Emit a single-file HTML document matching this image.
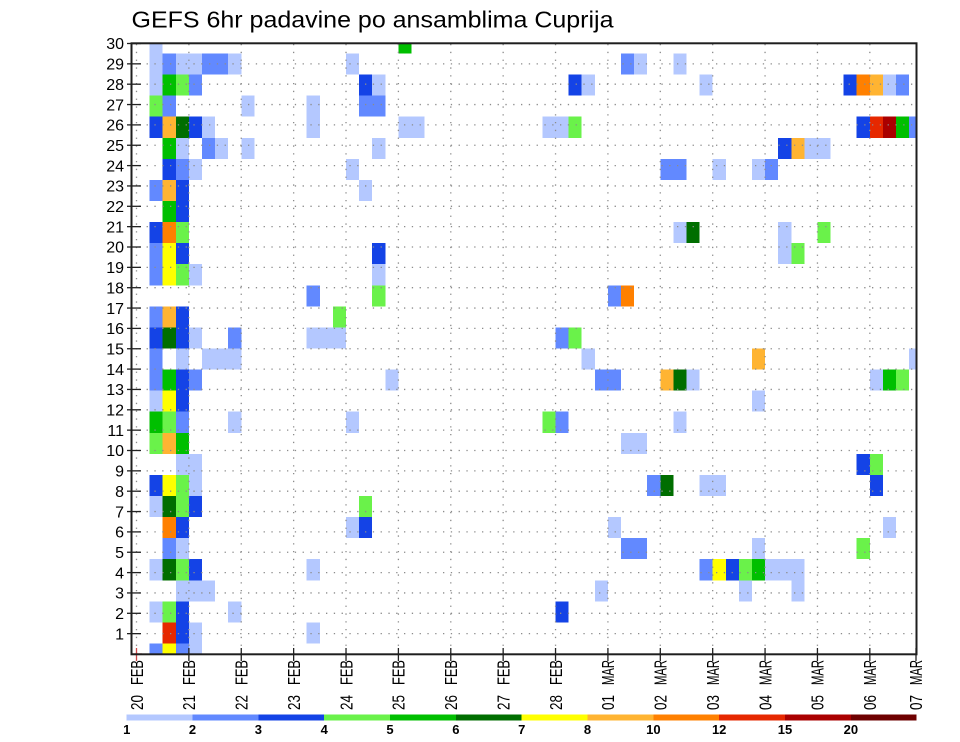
<!DOCTYPE html>
<html><head><meta charset="utf-8"><style>
html,body{margin:0;padding:0;background:#fff;}
svg{display:block;}
text{font-family:"Liberation Sans",Arial,sans-serif;fill:#000;}
</style></head><body>
<svg width="960" height="742" viewBox="0 0 960 742" xmlns="http://www.w3.org/2000/svg">
<rect x="0" y="0" width="960" height="742" fill="#fff"/>
<text x="131.5" y="27.3" font-size="23" textLength="482" lengthAdjust="spacingAndGlyphs">GEFS 6hr padavine po ansamblima Cuprija</text>
<defs><clipPath id="pc"><rect x="131" y="43.5" width="785" height="610.5"/></clipPath></defs>
<g clip-path="url(#pc)">
<g transform="translate(136.5,654) scale(13.095,-21.07)" shape-rendering="crispEdges">
<g fill="#b4c8ff">
<rect x="1" y="28.5" width="1" height="1"/>
<rect x="1" y="27.5" width="1" height="1"/><rect x="3" y="27.5" width="1" height="1"/><rect x="4" y="27.5" width="1" height="1"/><rect x="7" y="27.5" width="1" height="1"/><rect x="16" y="27.5" width="1" height="1"/><rect x="38" y="27.5" width="1" height="1"/><rect x="41" y="27.5" width="1" height="1"/>
<rect x="1" y="26.5" width="1" height="1"/><rect x="18" y="26.5" width="1" height="1"/><rect x="34" y="26.5" width="1" height="1"/><rect x="43" y="26.5" width="1" height="1"/><rect x="57" y="26.5" width="1" height="1"/>
<rect x="8" y="25.5" width="1" height="1"/><rect x="13" y="25.5" width="1" height="1"/>
<rect x="5" y="24.5" width="1" height="1"/><rect x="13" y="24.5" width="1" height="1"/><rect x="20" y="24.5" width="1" height="1"/><rect x="21" y="24.5" width="1" height="1"/><rect x="31" y="24.5" width="1" height="1"/><rect x="32" y="24.5" width="1" height="1"/>
<rect x="3" y="23.5" width="1" height="1"/><rect x="6" y="23.5" width="1" height="1"/><rect x="8" y="23.5" width="1" height="1"/><rect x="18" y="23.5" width="1" height="1"/><rect x="51" y="23.5" width="1" height="1"/><rect x="52" y="23.5" width="1" height="1"/>
<rect x="4" y="22.5" width="1" height="1"/><rect x="16" y="22.5" width="1" height="1"/><rect x="44" y="22.5" width="1" height="1"/><rect x="47" y="22.5" width="1" height="1"/>
<rect x="17" y="21.5" width="1" height="1"/>
<rect x="41" y="19.5" width="1" height="1"/><rect x="49" y="19.5" width="1" height="1"/>
<rect x="49" y="18.5" width="1" height="1"/>
<rect x="4" y="17.5" width="1" height="1"/><rect x="18" y="17.5" width="1" height="1"/>
<rect x="4" y="14.5" width="1" height="1"/><rect x="13" y="14.5" width="1" height="1"/><rect x="14" y="14.5" width="1" height="1"/><rect x="15" y="14.5" width="1" height="1"/>
<rect x="3" y="13.5" width="1" height="1"/><rect x="5" y="13.5" width="1" height="1"/><rect x="6" y="13.5" width="1" height="1"/><rect x="7" y="13.5" width="1" height="1"/><rect x="34" y="13.5" width="1" height="1"/><rect x="59" y="13.5" width="1" height="1"/>
<rect x="19" y="12.5" width="1" height="1"/><rect x="42" y="12.5" width="1" height="1"/><rect x="56" y="12.5" width="1" height="1"/>
<rect x="1" y="11.5" width="1" height="1"/><rect x="47" y="11.5" width="1" height="1"/>
<rect x="7" y="10.5" width="1" height="1"/><rect x="16" y="10.5" width="1" height="1"/><rect x="41" y="10.5" width="1" height="1"/>
<rect x="37" y="9.5" width="1" height="1"/><rect x="38" y="9.5" width="1" height="1"/>
<rect x="3" y="8.5" width="1" height="1"/><rect x="4" y="8.5" width="1" height="1"/>
<rect x="4" y="7.5" width="1" height="1"/><rect x="43" y="7.5" width="1" height="1"/><rect x="44" y="7.5" width="1" height="1"/>
<rect x="1" y="6.5" width="1" height="1"/>
<rect x="16" y="5.5" width="1" height="1"/><rect x="36" y="5.5" width="1" height="1"/><rect x="57" y="5.5" width="1" height="1"/>
<rect x="3" y="4.5" width="1" height="1"/><rect x="47" y="4.5" width="1" height="1"/>
<rect x="1" y="3.5" width="1" height="1"/><rect x="13" y="3.5" width="1" height="1"/><rect x="48" y="3.5" width="1" height="1"/><rect x="49" y="3.5" width="1" height="1"/><rect x="50" y="3.5" width="1" height="1"/>
<rect x="3" y="2.5" width="1" height="1"/><rect x="4" y="2.5" width="1" height="1"/><rect x="5" y="2.5" width="1" height="1"/><rect x="35" y="2.5" width="1" height="1"/><rect x="46" y="2.5" width="1" height="1"/><rect x="50" y="2.5" width="1" height="1"/>
<rect x="1" y="1.5" width="1" height="1"/><rect x="7" y="1.5" width="1" height="1"/>
<rect x="4" y="0.5" width="1" height="1"/><rect x="13" y="0.5" width="1" height="1"/>
<rect x="4" y="-0.5" width="1" height="1"/>
</g>
<g fill="#6289ff">
<rect x="2" y="27.5" width="1" height="1"/><rect x="5" y="27.5" width="1" height="1"/><rect x="6" y="27.5" width="1" height="1"/><rect x="37" y="27.5" width="1" height="1"/>
<rect x="4" y="26.5" width="1" height="1"/><rect x="58" y="26.5" width="1" height="1"/>
<rect x="2" y="25.5" width="1" height="1"/><rect x="17" y="25.5" width="1" height="1"/><rect x="18" y="25.5" width="1" height="1"/>
<rect x="59" y="24.5" width="1" height="1"/>
<rect x="5" y="23.5" width="1" height="1"/>
<rect x="3" y="22.5" width="1" height="1"/><rect x="40" y="22.5" width="1" height="1"/><rect x="41" y="22.5" width="1" height="1"/><rect x="48" y="22.5" width="1" height="1"/>
<rect x="1" y="21.5" width="1" height="1"/>
<rect x="1" y="18.5" width="1" height="1"/>
<rect x="1" y="17.5" width="1" height="1"/>
<rect x="13" y="16.5" width="1" height="1"/><rect x="36" y="16.5" width="1" height="1"/>
<rect x="1" y="15.5" width="1" height="1"/>
<rect x="7" y="14.5" width="1" height="1"/><rect x="32" y="14.5" width="1" height="1"/>
<rect x="1" y="13.5" width="1" height="1"/>
<rect x="1" y="12.5" width="1" height="1"/><rect x="4" y="12.5" width="1" height="1"/><rect x="35" y="12.5" width="1" height="1"/><rect x="36" y="12.5" width="1" height="1"/>
<rect x="3" y="10.5" width="1" height="1"/><rect x="32" y="10.5" width="1" height="1"/>
<rect x="39" y="7.5" width="1" height="1"/>
<rect x="2" y="4.5" width="1" height="1"/><rect x="37" y="4.5" width="1" height="1"/><rect x="38" y="4.5" width="1" height="1"/>
<rect x="43" y="3.5" width="1" height="1"/>
<rect x="1" y="-0.5" width="1" height="1"/><rect x="3" y="-0.5" width="1" height="1"/>
</g>
<g fill="#1443e6">
<rect x="17" y="26.5" width="1" height="1"/><rect x="33" y="26.5" width="1" height="1"/><rect x="54" y="26.5" width="1" height="1"/>
<rect x="1" y="24.5" width="1" height="1"/><rect x="4" y="24.5" width="1" height="1"/><rect x="55" y="24.5" width="1" height="1"/>
<rect x="2" y="23.5" width="1" height="1"/><rect x="49" y="23.5" width="1" height="1"/>
<rect x="2" y="22.5" width="1" height="1"/>
<rect x="3" y="21.5" width="1" height="1"/>
<rect x="3" y="20.5" width="1" height="1"/>
<rect x="1" y="19.5" width="1" height="1"/>
<rect x="3" y="18.5" width="1" height="1"/><rect x="18" y="18.5" width="1" height="1"/>
<rect x="3" y="15.5" width="1" height="1"/>
<rect x="1" y="14.5" width="1" height="1"/><rect x="3" y="14.5" width="1" height="1"/>
<rect x="3" y="12.5" width="1" height="1"/>
<rect x="3" y="11.5" width="1" height="1"/>
<rect x="55" y="8.5" width="1" height="1"/>
<rect x="1" y="7.5" width="1" height="1"/><rect x="56" y="7.5" width="1" height="1"/>
<rect x="4" y="6.5" width="1" height="1"/>
<rect x="3" y="5.5" width="1" height="1"/><rect x="17" y="5.5" width="1" height="1"/>
<rect x="4" y="3.5" width="1" height="1"/><rect x="45" y="3.5" width="1" height="1"/>
<rect x="3" y="1.5" width="1" height="1"/><rect x="32" y="1.5" width="1" height="1"/>
<rect x="3" y="0.5" width="1" height="1"/>
</g>
<g fill="#6af24a">
<rect x="3" y="26.5" width="1" height="1"/>
<rect x="1" y="25.5" width="1" height="1"/>
<rect x="33" y="24.5" width="1" height="1"/>
<rect x="3" y="19.5" width="1" height="1"/><rect x="52" y="19.5" width="1" height="1"/>
<rect x="50" y="18.5" width="1" height="1"/>
<rect x="3" y="17.5" width="1" height="1"/>
<rect x="18" y="16.5" width="1" height="1"/>
<rect x="15" y="15.5" width="1" height="1"/>
<rect x="33" y="14.5" width="1" height="1"/>
<rect x="58" y="12.5" width="1" height="1"/>
<rect x="2" y="10.5" width="1" height="1"/><rect x="31" y="10.5" width="1" height="1"/>
<rect x="1" y="9.5" width="1" height="1"/>
<rect x="56" y="8.5" width="1" height="1"/>
<rect x="3" y="7.5" width="1" height="1"/>
<rect x="3" y="6.5" width="1" height="1"/><rect x="17" y="6.5" width="1" height="1"/>
<rect x="55" y="4.5" width="1" height="1"/>
<rect x="3" y="3.5" width="1" height="1"/><rect x="46" y="3.5" width="1" height="1"/>
<rect x="2" y="1.5" width="1" height="1"/>
</g>
<g fill="#00bf00">
<rect x="20" y="28.5" width="1" height="1"/>
<rect x="2" y="26.5" width="1" height="1"/>
<rect x="58" y="24.5" width="1" height="1"/>
<rect x="2" y="23.5" width="1" height="1"/>
<rect x="2" y="20.5" width="1" height="1"/>
<rect x="2" y="12.5" width="1" height="1"/><rect x="57" y="12.5" width="1" height="1"/>
<rect x="1" y="10.5" width="1" height="1"/>
<rect x="3" y="9.5" width="1" height="1"/>
<rect x="47" y="3.5" width="1" height="1"/>
</g>
<g fill="#006e00">
<rect x="3" y="24.5" width="1" height="1"/>
<rect x="42" y="19.5" width="1" height="1"/>
<rect x="2" y="14.5" width="1" height="1"/>
<rect x="41" y="12.5" width="1" height="1"/>
<rect x="40" y="7.5" width="1" height="1"/>
<rect x="2" y="6.5" width="1" height="1"/>
<rect x="2" y="3.5" width="1" height="1"/>
</g>
<g fill="#ffff00">
<rect x="2" y="18.5" width="1" height="1"/>
<rect x="2" y="17.5" width="1" height="1"/>
<rect x="2" y="11.5" width="1" height="1"/>
<rect x="2" y="7.5" width="1" height="1"/>
<rect x="44" y="3.5" width="1" height="1"/>
<rect x="2" y="-0.5" width="1" height="1"/>
</g>
<g fill="#ffb432">
<rect x="56" y="26.5" width="1" height="1"/>
<rect x="2" y="24.5" width="1" height="1"/>
<rect x="50" y="23.5" width="1" height="1"/>
<rect x="2" y="21.5" width="1" height="1"/>
<rect x="2" y="15.5" width="1" height="1"/>
<rect x="47" y="13.5" width="1" height="1"/>
<rect x="40" y="12.5" width="1" height="1"/>
<rect x="2" y="9.5" width="1" height="1"/>
</g>
<g fill="#ff8000">
<rect x="55" y="26.5" width="1" height="1"/>
<rect x="2" y="19.5" width="1" height="1"/>
<rect x="37" y="16.5" width="1" height="1"/>
<rect x="2" y="5.5" width="1" height="1"/>
</g>
<g fill="#e62800">
<rect x="56" y="24.5" width="1" height="1"/>
<rect x="2" y="0.5" width="1" height="1"/>
</g>
<g fill="#aa0000">
<rect x="57" y="24.5" width="1" height="1"/>
</g>
</g>
</g>
<g stroke="#8c8c8c" stroke-width="1.3" stroke-dasharray="1.3 6.5" fill="none">
<line x1="131" x2="916" y1="633.65" y2="633.65"/><line x1="131" x2="916" y1="613.3" y2="613.3"/><line x1="131" x2="916" y1="592.95" y2="592.95"/><line x1="131" x2="916" y1="572.6" y2="572.6"/><line x1="131" x2="916" y1="552.25" y2="552.25"/><line x1="131" x2="916" y1="531.9" y2="531.9"/><line x1="131" x2="916" y1="511.55" y2="511.55"/><line x1="131" x2="916" y1="491.2" y2="491.2"/><line x1="131" x2="916" y1="470.85" y2="470.85"/><line x1="131" x2="916" y1="450.5" y2="450.5"/><line x1="131" x2="916" y1="430.15" y2="430.15"/><line x1="131" x2="916" y1="409.8" y2="409.8"/><line x1="131" x2="916" y1="389.45" y2="389.45"/><line x1="131" x2="916" y1="369.1" y2="369.1"/><line x1="131" x2="916" y1="348.75" y2="348.75"/><line x1="131" x2="916" y1="328.4" y2="328.4"/><line x1="131" x2="916" y1="308.05" y2="308.05"/><line x1="131" x2="916" y1="287.7" y2="287.7"/><line x1="131" x2="916" y1="267.35" y2="267.35"/><line x1="131" x2="916" y1="247" y2="247"/><line x1="131" x2="916" y1="226.65" y2="226.65"/><line x1="131" x2="916" y1="206.3" y2="206.3"/><line x1="131" x2="916" y1="185.95" y2="185.95"/><line x1="131" x2="916" y1="165.6" y2="165.6"/><line x1="131" x2="916" y1="145.25" y2="145.25"/><line x1="131" x2="916" y1="124.9" y2="124.9"/><line x1="131" x2="916" y1="104.55" y2="104.55"/><line x1="131" x2="916" y1="84.2" y2="84.2"/><line x1="131" x2="916" y1="63.85" y2="63.85"/>
<line x1="136.5" x2="136.5" y1="44" y2="654"/><line x1="188.88" x2="188.88" y1="44" y2="654"/><line x1="241.26" x2="241.26" y1="44" y2="654"/><line x1="293.64" x2="293.64" y1="44" y2="654"/><line x1="346.02" x2="346.02" y1="44" y2="654"/><line x1="398.4" x2="398.4" y1="44" y2="654"/><line x1="450.78" x2="450.78" y1="44" y2="654"/><line x1="503.16" x2="503.16" y1="44" y2="654"/><line x1="555.54" x2="555.54" y1="44" y2="654"/><line x1="607.92" x2="607.92" y1="44" y2="654"/><line x1="660.3" x2="660.3" y1="44" y2="654"/><line x1="712.68" x2="712.68" y1="44" y2="654"/><line x1="765.06" x2="765.06" y1="44" y2="654"/><line x1="817.44" x2="817.44" y1="44" y2="654"/><line x1="869.82" x2="869.82" y1="44" y2="654"/>
</g>
<g stroke="#222" stroke-width="1.3">
<line x1="127" x2="141" y1="633.65" y2="633.65"/><line x1="127" x2="141" y1="613.3" y2="613.3"/><line x1="127" x2="141" y1="592.95" y2="592.95"/><line x1="127" x2="141" y1="572.6" y2="572.6"/><line x1="127" x2="141" y1="552.25" y2="552.25"/><line x1="127" x2="141" y1="531.9" y2="531.9"/><line x1="127" x2="141" y1="511.55" y2="511.55"/><line x1="127" x2="141" y1="491.2" y2="491.2"/><line x1="127" x2="141" y1="470.85" y2="470.85"/><line x1="127" x2="141" y1="450.5" y2="450.5"/><line x1="127" x2="141" y1="430.15" y2="430.15"/><line x1="127" x2="141" y1="409.8" y2="409.8"/><line x1="127" x2="141" y1="389.45" y2="389.45"/><line x1="127" x2="141" y1="369.1" y2="369.1"/><line x1="127" x2="141" y1="348.75" y2="348.75"/><line x1="127" x2="141" y1="328.4" y2="328.4"/><line x1="127" x2="141" y1="308.05" y2="308.05"/><line x1="127" x2="141" y1="287.7" y2="287.7"/><line x1="127" x2="141" y1="267.35" y2="267.35"/><line x1="127" x2="141" y1="247" y2="247"/><line x1="127" x2="141" y1="226.65" y2="226.65"/><line x1="127" x2="141" y1="206.3" y2="206.3"/><line x1="127" x2="141" y1="185.95" y2="185.95"/><line x1="127" x2="141" y1="165.6" y2="165.6"/><line x1="127" x2="141" y1="145.25" y2="145.25"/><line x1="127" x2="141" y1="124.9" y2="124.9"/><line x1="127" x2="141" y1="104.55" y2="104.55"/><line x1="127" x2="141" y1="84.2" y2="84.2"/><line x1="127" x2="141" y1="63.85" y2="63.85"/><line x1="127" x2="141" y1="43.5" y2="43.5"/>
<line x1="188.88" x2="188.88" y1="648" y2="661"/><line x1="241.26" x2="241.26" y1="648" y2="661"/><line x1="293.64" x2="293.64" y1="648" y2="661"/><line x1="346.02" x2="346.02" y1="648" y2="661"/><line x1="398.4" x2="398.4" y1="648" y2="661"/><line x1="450.78" x2="450.78" y1="648" y2="661"/><line x1="503.16" x2="503.16" y1="648" y2="661"/><line x1="555.54" x2="555.54" y1="648" y2="661"/><line x1="607.92" x2="607.92" y1="648" y2="661"/><line x1="660.3" x2="660.3" y1="648" y2="661"/><line x1="712.68" x2="712.68" y1="648" y2="661"/><line x1="765.06" x2="765.06" y1="648" y2="661"/><line x1="817.44" x2="817.44" y1="648" y2="661"/><line x1="869.82" x2="869.82" y1="648" y2="661"/><line x1="916" x2="916" y1="648" y2="661"/>
</g>
<line x1="136.5" x2="136.5" y1="648" y2="661" stroke="#d04848" stroke-width="1.3"/>
<line x1="132" x2="142" y1="654" y2="654" stroke="#d04848" stroke-width="1.3"/>
<rect x="131.5" y="43.3" width="785" height="611" fill="none" stroke="#1e1e1e" stroke-width="2"/>
<g font-size="16" text-anchor="end">
<text x="124" y="49.2">30</text><text x="124" y="69.55">29</text><text x="124" y="89.9">28</text><text x="124" y="110.25">27</text><text x="124" y="130.6">26</text><text x="124" y="150.95">25</text><text x="124" y="171.3">24</text><text x="124" y="191.65">23</text><text x="124" y="212">22</text><text x="124" y="232.35">21</text><text x="124" y="252.7">20</text><text x="124" y="273.05">19</text><text x="124" y="293.4">18</text><text x="124" y="313.75">17</text><text x="124" y="334.1">16</text><text x="124" y="354.45">15</text><text x="124" y="374.8">14</text><text x="124" y="395.15">13</text><text x="124" y="415.5">12</text><text x="124" y="435.85">11</text><text x="124" y="456.2">10</text><text x="124" y="476.55">9</text><text x="124" y="496.9">8</text><text x="124" y="517.25">7</text><text x="124" y="537.6">6</text><text x="124" y="557.95">5</text><text x="124" y="578.3">4</text><text x="124" y="598.65">3</text><text x="124" y="619">2</text><text x="124" y="639.35">1</text>
</g>
<g font-size="13">
<text transform="translate(142.8,710) rotate(-90) scale(1,1.33)" textLength="15" lengthAdjust="spacingAndGlyphs">20</text><text transform="translate(142.8,685) rotate(-90) scale(1,1.33)" textLength="25" lengthAdjust="spacingAndGlyphs">FEB</text>
<text transform="translate(195.18,710) rotate(-90) scale(1,1.33)" textLength="15" lengthAdjust="spacingAndGlyphs">21</text><text transform="translate(195.18,685) rotate(-90) scale(1,1.33)" textLength="25" lengthAdjust="spacingAndGlyphs">FEB</text>
<text transform="translate(247.56,710) rotate(-90) scale(1,1.33)" textLength="15" lengthAdjust="spacingAndGlyphs">22</text><text transform="translate(247.56,685) rotate(-90) scale(1,1.33)" textLength="25" lengthAdjust="spacingAndGlyphs">FEB</text>
<text transform="translate(299.94,710) rotate(-90) scale(1,1.33)" textLength="15" lengthAdjust="spacingAndGlyphs">23</text><text transform="translate(299.94,685) rotate(-90) scale(1,1.33)" textLength="25" lengthAdjust="spacingAndGlyphs">FEB</text>
<text transform="translate(352.32,710) rotate(-90) scale(1,1.33)" textLength="15" lengthAdjust="spacingAndGlyphs">24</text><text transform="translate(352.32,685) rotate(-90) scale(1,1.33)" textLength="25" lengthAdjust="spacingAndGlyphs">FEB</text>
<text transform="translate(404.7,710) rotate(-90) scale(1,1.33)" textLength="15" lengthAdjust="spacingAndGlyphs">25</text><text transform="translate(404.7,685) rotate(-90) scale(1,1.33)" textLength="25" lengthAdjust="spacingAndGlyphs">FEB</text>
<text transform="translate(457.08,710) rotate(-90) scale(1,1.33)" textLength="15" lengthAdjust="spacingAndGlyphs">26</text><text transform="translate(457.08,685) rotate(-90) scale(1,1.33)" textLength="25" lengthAdjust="spacingAndGlyphs">FEB</text>
<text transform="translate(509.46,710) rotate(-90) scale(1,1.33)" textLength="15" lengthAdjust="spacingAndGlyphs">27</text><text transform="translate(509.46,685) rotate(-90) scale(1,1.33)" textLength="25" lengthAdjust="spacingAndGlyphs">FEB</text>
<text transform="translate(561.84,710) rotate(-90) scale(1,1.33)" textLength="15" lengthAdjust="spacingAndGlyphs">28</text><text transform="translate(561.84,685) rotate(-90) scale(1,1.33)" textLength="25" lengthAdjust="spacingAndGlyphs">FEB</text>
<text transform="translate(614.22,710) rotate(-90) scale(1,1.33)" textLength="15" lengthAdjust="spacingAndGlyphs">01</text><text transform="translate(614.22,685) rotate(-90) scale(1,1.33)" textLength="25" lengthAdjust="spacingAndGlyphs">MAR</text>
<text transform="translate(666.6,710) rotate(-90) scale(1,1.33)" textLength="15" lengthAdjust="spacingAndGlyphs">02</text><text transform="translate(666.6,685) rotate(-90) scale(1,1.33)" textLength="25" lengthAdjust="spacingAndGlyphs">MAR</text>
<text transform="translate(718.98,710) rotate(-90) scale(1,1.33)" textLength="15" lengthAdjust="spacingAndGlyphs">03</text><text transform="translate(718.98,685) rotate(-90) scale(1,1.33)" textLength="25" lengthAdjust="spacingAndGlyphs">MAR</text>
<text transform="translate(771.36,710) rotate(-90) scale(1,1.33)" textLength="15" lengthAdjust="spacingAndGlyphs">04</text><text transform="translate(771.36,685) rotate(-90) scale(1,1.33)" textLength="25" lengthAdjust="spacingAndGlyphs">MAR</text>
<text transform="translate(823.74,710) rotate(-90) scale(1,1.33)" textLength="15" lengthAdjust="spacingAndGlyphs">05</text><text transform="translate(823.74,685) rotate(-90) scale(1,1.33)" textLength="25" lengthAdjust="spacingAndGlyphs">MAR</text>
<text transform="translate(876.12,710) rotate(-90) scale(1,1.33)" textLength="15" lengthAdjust="spacingAndGlyphs">06</text><text transform="translate(876.12,685) rotate(-90) scale(1,1.33)" textLength="25" lengthAdjust="spacingAndGlyphs">MAR</text>
<text transform="translate(922,710) rotate(-90) scale(1,1.33)" textLength="15" lengthAdjust="spacingAndGlyphs">07</text><text transform="translate(922,685) rotate(-90) scale(1,1.33)" textLength="25" lengthAdjust="spacingAndGlyphs">MAR</text>
</g>
<g shape-rendering="crispEdges">
<rect x="126.7" y="714.3" width="65.9" height="6" fill="#b4c8ff"/>
<rect x="192.5" y="714.3" width="65.9" height="6" fill="#6289ff"/>
<rect x="258.4" y="714.3" width="65.9" height="6" fill="#1443e6"/>
<rect x="324.2" y="714.3" width="65.9" height="6" fill="#6af24a"/>
<rect x="390" y="714.3" width="65.9" height="6" fill="#00bf00"/>
<rect x="455.9" y="714.3" width="65.9" height="6" fill="#006e00"/>
<rect x="521.7" y="714.3" width="65.9" height="6" fill="#ffff00"/>
<rect x="587.5" y="714.3" width="65.9" height="6" fill="#ffb432"/>
<rect x="653.4" y="714.3" width="65.9" height="6" fill="#ff8000"/>
<rect x="719.2" y="714.3" width="65.9" height="6" fill="#e62800"/>
<rect x="785" y="714.3" width="65.9" height="6" fill="#aa0000"/>
<rect x="850.9" y="714.3" width="65.8" height="6" fill="#6e0000"/>
</g>
<g font-size="13" font-weight="bold" text-anchor="middle">
<text x="126.7" y="734">1</text><text x="192.5" y="734">2</text><text x="258.4" y="734">3</text><text x="324.2" y="734">4</text><text x="390" y="734">5</text><text x="455.9" y="734">6</text><text x="521.7" y="734">7</text><text x="587.5" y="734">8</text><text x="653.4" y="734">10</text><text x="719.2" y="734">12</text><text x="785" y="734">15</text><text x="850.9" y="734">20</text>
</g>
</svg>
</body></html>
